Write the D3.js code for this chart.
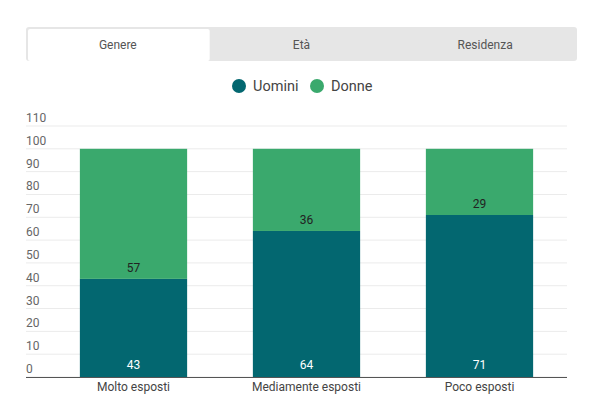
<!DOCTYPE html>
<html>
<head>
<meta charset="utf-8">
<script src="https://cdn.jsdelivr.net/npm/d3@7"></script>
<style>
  body { margin: 0; background: #fff; font-family: Roboto, "Noto Sans", sans-serif; }
</style>
</head>
<body>
<div id="chart"></div>
<script>
// data
var categories = ["Molto esposti", "Mediamente esposti", "Poco esposti"];
var uomini = [43, 64, 71];
var donne = [57, 36, 29];
var seriesNames = ["Uomini", "Donne"];
var tabs = ["Genere", "Età", "Residenza"];
var yTicks = [0, 10, 20, 30, 40, 50, 60, 70, 80, 90, 100, 110];

var colours = ["#036770", "#3aa96d"];

var w = 600, h = 400;

var svg = d3.select("#chart").append("svg")
  .attr("width", w)
  .attr("height", h);

// tab bar
var tabX = d3.scaleBand().domain(tabs).range([26, 577]);
svg.append("rect")
  .attr("x", 26).attr("y", 27)
  .attr("width", 551).attr("height", 34)
  .attr("rx", 3)
  .attr("fill", "#e6e6e6");
svg.append("rect")
  .attr("x", tabX("Genere") + 2).attr("y", 29)
  .attr("width", tabX.bandwidth() - 2).attr("height", 32)
  .attr("rx", 2)
  .attr("fill", "#fff");
svg.selectAll(".tab")
  .data(tabs)
  .enter().append("text")
  .attr("class", "tab")
  .attr("x", function(d){ return tabX(d) + tabX.bandwidth()/2; })
  .attr("y", 49)
  .attr("text-anchor", "middle")
  .attr("font-size", 12)
  .attr("fill", "#555")
  .text(function(d){ return d; });

// legend
var legend = svg.append("g");
var legX = [239, 317];
seriesNames.forEach(function(name, i){
  legend.append("circle")
    .attr("cx", legX[i]).attr("cy", 86).attr("r", 7)
    .attr("fill", colours[i]);
  legend.append("text")
    .attr("x", legX[i] + 14).attr("y", 91)
    .attr("font-size", 14.5)
    .attr("fill", "#444")
    .text(name);
});

// scales
var x = d3.scaleBand().domain(categories).range([47, 566])
  .paddingInner(0.38).paddingOuter(0.19);
var y = d3.scaleLinear().domain([0, 110]).range([377, 126]);

// grid + y labels
svg.selectAll(".grid")
  .data(yTicks)
  .enter().append("line")
  .attr("class", "grid")
  .attr("x1", 26).attr("x2", 567)
  .attr("y1", function(d){ return y(d); })
  .attr("y2", function(d){ return y(d); })
  .attr("stroke", "#ebebeb")
  .attr("stroke-width", 1);

svg.selectAll(".ylab")
  .data(yTicks)
  .enter().append("text")
  .attr("class", "ylab")
  .attr("x", 26)
  .attr("y", function(d){ return y(d) - 4; })
  .attr("font-size", 12)
  .attr("fill", "#666")
  .text(function(d){ return d; });

// stacked bars
var rows = categories.map(function(c, i){ return {cat: c, Uomini: uomini[i], Donne: donne[i]}; });
var stack = d3.stack().keys(seriesNames)(rows);

svg.selectAll(".layer")
  .data(stack)
  .enter().append("g")
  .attr("class", "layer")
  .attr("fill", function(d, i){ return colours[i]; })
  .selectAll("rect")
  .data(function(d){ return d; })
  .enter().append("rect")
  .attr("x", function(d){ return x(d.data.cat); })
  .attr("y", function(d){ return y(d[1]); })
  .attr("width", x.bandwidth())
  .attr("height", function(d){ return y(d[0]) - y(d[1]); });

// value labels
rows.forEach(function(r){
  var cx = x(r.cat) + x.bandwidth()/2;
  svg.append("text")
    .attr("x", cx).attr("y", y(0) - 8)
    .attr("text-anchor", "middle")
    .attr("font-size", 12)
    .attr("fill", "#fff")
    .text(r.Uomini);
  svg.append("text")
    .attr("x", cx).attr("y", y(r.Uomini) - 7)
    .attr("text-anchor", "middle")
    .attr("font-size", 12)
    .attr("fill", "#222")
    .text(r.Donne);
});

// baseline
svg.append("line")
  .attr("x1", 26).attr("x2", 567)
  .attr("y1", y(0) + 0.5).attr("y2", y(0) + 0.5)
  .attr("stroke", "#555")
  .attr("stroke-width", 1.2);

// x labels
svg.selectAll(".xlab")
  .data(categories)
  .enter().append("text")
  .attr("class", "xlab")
  .attr("x", function(d){ return x(d) + x.bandwidth()/2; })
  .attr("y", 391)
  .attr("text-anchor", "middle")
  .attr("font-size", 12)
  .attr("fill", "#444")
  .text(function(d){ return d; });
</script>
</body>
</html>
